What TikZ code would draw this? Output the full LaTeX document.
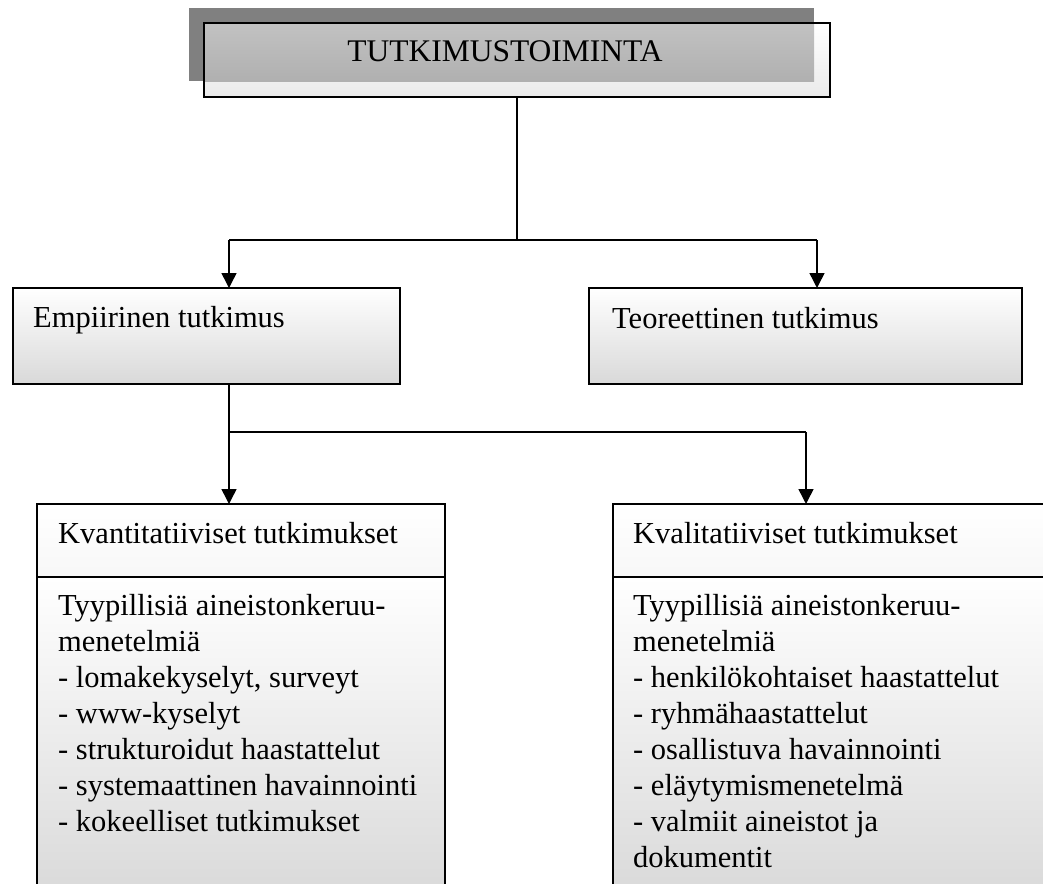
\documentclass[tikz,border=0pt]{standalone}
\usepackage{fontspec}
\setmainfont{Liberation Serif}
\usetikzlibrary{arrows.meta}
\begin{document}
\begin{tikzpicture}[x=1pt,y=-1pt,
  box/.style={rectangle, inner sep=0pt, outer sep=0pt, draw=black, line width=1.6pt},
  conn/.style={line width=1.5pt},
  arr/.style={conn, -{Triangle[length=15pt,width=15pt]}},
  lbl/.style={anchor=base west, inner sep=0pt, font=\fontsize{30.5}{36}\selectfont},
]
\useasboundingbox (0,0) rectangle (1043,883);
\clip (0,0) rectangle (1043,883);

% heading box with its offset shadow
\fill[black!50] (189,8) rectangle (814,81);
\node[box, draw=none, minimum width=626pt, minimum height=74pt,
      top color=white, bottom color=black!8] (top) at (517,60) {};
\shade[top color=black!24, bottom color=black!31] (top.north west) rectangle (814,81);
\draw[line width=1.6pt] (top.north west) rectangle (top.south east);
\node[anchor=base, inner sep=0pt, font=\fontsize{31.5}{36}\selectfont] (toptxt) at (505,61) {TUTKIMUSTOIMINTA};

% second level
\node[box, minimum width=387pt, minimum height=96pt,
      top color=white, bottom color=black!15] (emp) at (206.5,336) {};
\node[lbl] (emptxt) at (33,327) {Empiirinen tutkimus};
\node[box, minimum width=433pt, minimum height=96pt,
      top color=white, bottom color=black!15] (teo) at (805.5,336) {};
\node[lbl] (teotxt) at (612,328) {Teoreettinen tutkimus};

% third level: title compartments and body compartments
\node[box, minimum width=408pt, minimum height=73pt,
      top color=white, bottom color=black!3] (kvant) at (241,540.5) {};
\node[box, minimum width=408pt, minimum height=323pt,
      top color=white, bottom color=black!15] (kvantb) at (241,738.5) {};
\node[box, minimum width=457pt, minimum height=73pt,
      top color=white, bottom color=black!3] (kval) at (841.5,540.5) {};
\node[box, minimum width=457pt, minimum height=323pt,
      top color=white, bottom color=black!15] (kvalb) at (841.5,738.5) {};

\node[lbl] (kvanttxt) at (58,543) {Kvantitatiiviset tutkimukset};
\node[lbl] (kvaltxt) at (633,543) {Kvalitatiiviset tutkimukset};

\node[lbl] (kvantlist) at (58,615) {\parbox[t]{400pt}{\raggedright
  Tyypillisiä aineistonkeruu-\\
  menetelmiä\\
  - lomakekyselyt, surveyt\\
  - www-kyselyt\\
  - strukturoidut haastattelut\\
  - systemaattinen havainnointi\\
  - kokeelliset tutkimukset}};
\node[lbl] (kvallist) at (633,615) {\parbox[t]{420pt}{\raggedright
  Tyypillisiä aineistonkeruu-\\
  menetelmiä\\
  - henkilökohtaiset haastattelut\\
  - ryhmähaastattelut\\
  - osallistuva havainnointi\\
  - eläytymismenetelmä\\
  - valmiit aineistot ja\\
  dokumentit}};

% connectors
\coordinate (j1) at (517,240);
\coordinate (j1l) at (229,240);
\coordinate (j1r) at (817,240);
\draw[conn] (top.south) -- (j1);
\draw[conn] (j1l) -- (j1r);
\draw[arr] (j1l) -- (j1l |- emp.north);
\draw[arr] (j1r) -- (j1r |- teo.north);

\coordinate (j2) at (229,432);
\coordinate (j3) at (806,432);
\draw[conn] (emp.south -| j2) -- (j2) -- (j3);
\draw[arr] (j2) -- (j2 |- kvant.north);
\draw[arr] (j3) -- (j3 |- kval.north);
\end{tikzpicture}
\end{document}
